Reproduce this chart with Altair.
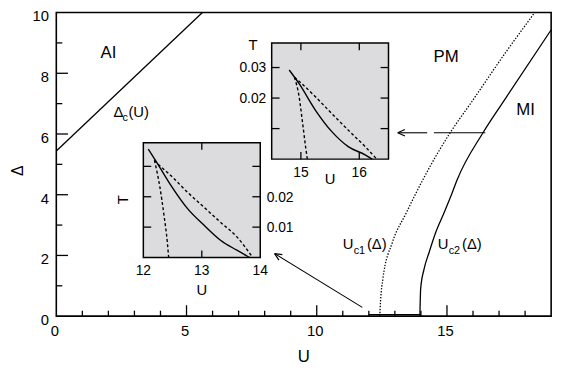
import altair as alt
import pandas as pd

W, H = 502, 308
FONT = "Liberation Sans"

# ---------------- main panel data ----------------
dc_U = [0.0, 5.61]
dc_D = [5.44, 10.0]
uc1_U = [12.42, 12.45, 12.54, 12.90, 13.43, 14.06, 14.69, 15.13, 15.95, 17.24, 18.37]
uc1_D = [0.0, 0.5, 1.23, 2.42, 3.39, 4.47, 5.44, 6.05, 7.06, 8.67, 10.0]
uc2_U = [13.96, 13.99, 14.12, 14.31, 14.56, 14.88, 15.19, 15.38, 16.39, 17.16, 19.0]
uc2_D = [0.0, 0.9, 1.55, 2.09, 2.74, 3.39, 4.04, 4.47, 6.05, 7.06, 9.43]
seg_U = [12.0, 14.0]
seg_D = [0.05, 0.05]
arr1_U = [11.75, 8.38]
arr1_D = [0.29, 2.06]
arr2a_U = [13.11, 14.24]
arr2b_U = [14.5, 16.47]
arr2_D = [6.04, 6.04]

main_x_dom = [0, 19]
main_y_dom = [0, 10]
x_labels = [0, 5, 10, 15]
x_ticks_major = [5, 10, 15]
x_ticks_minor = [1, 2, 3, 4, 6, 7, 8, 9, 11, 12, 13, 14, 16, 17, 18]
y_labels = [0, 2, 4, 6, 8, 10]
y_ticks_major = [2, 4, 6, 8]
y_ticks_minor = [1, 3, 5, 7, 9]

lab_text = ["AI", "PM", "MI"]
lab_U = [2.0, 14.97, 18.02]
lab_D = [8.51, 8.37, 6.62]

dc_anchor = (2.2, 6.57)
uc1_anchor = (11.0, 2.2)
uc2_anchor = (14.65, 2.2)
x_title_anchor = (9.5, 0.0)
y_title_anchor = (-1.46, 4.79)

# ---------------- inset 1 (lower left) ----------------
in1_U_dom = [12, 14]
in1_T_dom = [0, 0.0378]
in1_sol_U = [12.084, 12.253, 12.48, 12.76, 13.04, 13.32, 13.6, 13.82]
in1_sol_T = [0.0357, 0.0306, 0.0235, 0.016, 0.0106, 0.0057, 0.0024, 0.0]
in1_d1_U = [12.19, 12.28, 12.354, 12.41, 12.433]
in1_d1_T = [0.032, 0.0235, 0.0138, 0.0051, 0.0]
in1_d2_U = [12.19, 12.25, 12.48, 12.76, 13.04, 13.32, 13.6, 13.87]
in1_d2_T = [0.032, 0.0308, 0.0268, 0.0214, 0.0165, 0.0116, 0.0068, 0.0]
in1_x_labels = [12, 13, 14]
in1_x_ticks = [13]
in1_y_labels = [0.01, 0.02]
in1_y_ticks = [0.01, 0.02, 0.03]
in1_U_title = (13.0, 0.0)
in1_T_title = (11.66, 0.019)

# ---------------- inset 2 (upper) ----------------
in2_U_dom = [14.5, 16.5]
in2_T_dom = [0, 0.038]
in2_sol_U = [14.80, 14.97, 15.25, 15.53, 15.81, 16.10, 16.22]
in2_sol_T = [0.0292, 0.0247, 0.016, 0.009, 0.0041, 0.0014, 0.0]
in2_d1_U = [14.89, 14.97, 15.03, 15.08, 15.11]
in2_d1_T = [0.0268, 0.0204, 0.0117, 0.0041, 0.0]
in2_d2_U = [14.89, 14.97, 15.25, 15.53, 15.81, 16.10, 16.30]
in2_d2_T = [0.0268, 0.0255, 0.0204, 0.0149, 0.0095, 0.0041, 0.0]
in2_x_labels = [15, 16]
in2_x_ticks = [15, 16]
in2_y_labels = [0.02, 0.03]
in2_y_ticks = [0.01, 0.02, 0.03]
in2_U_title = (15.5, 0.0)
in2_T_title = (14.18, 0.0372)

# ---------------- helpers ----------------
CHEVRON = "M0,0L1,-0.45M0,0L1,0.45"


def sc(dom, rng=None):
    if rng is None:
        return alt.Scale(domain=dom, nice=False, zero=False)
    return alt.Scale(domain=dom, range=rng, nice=False, zero=False)


def line(u, d, xs, ys, dash=None, width=1.3, interp="linear"):
    df = pd.DataFrame({"u": u, "d": d, "o": list(range(len(u)))})
    kw = dict(color="black", strokeWidth=width, strokeCap="butt", interpolate=interp)
    if dash:
        kw["strokeDash"] = dash
    return alt.Chart(df).mark_line(**kw).encode(
        x=alt.X("u:Q", scale=xs, axis=None),
        y=alt.Y("d:Q", scale=ys, axis=None),
        order="o:Q",
    )


def vticks(vals, base, length, xs, ys, width=1.3):
    df = pd.DataFrame({"u": vals})
    df["a"] = base
    df["b"] = base + length
    return alt.Chart(df).mark_rule(color="black", strokeWidth=width).encode(
        x=alt.X("u:Q", scale=xs, axis=None),
        y=alt.Y("a:Q", scale=ys, axis=None),
        y2="b:Q",
    )


def hticks(vals, base, length, xs, ys, width=1.3):
    df = pd.DataFrame({"d": vals})
    df["a"] = base
    df["b"] = base + length
    return alt.Chart(df).mark_rule(color="black", strokeWidth=width).encode(
        y=alt.Y("d:Q", scale=ys, axis=None),
        x=alt.X("a:Q", scale=xs, axis=None),
        x2="b:Q",
    )


def texts(us, ds, ss, xs, ys, size=16, align="center", dx=0, dy=0,
          baseline="alphabetic", angle=0):
    df = pd.DataFrame({"u": us, "d": ds, "t": ss})
    return alt.Chart(df).mark_text(
        align=align, baseline=baseline, fontSize=size, dx=dx, dy=dy,
        font=FONT, color="black", angle=angle,
    ).encode(
        x=alt.X("u:Q", scale=xs, axis=None),
        y=alt.Y("d:Q", scale=ys, axis=None),
        text="t:N",
    )


def arrowhead(u, d, xs, ys, ang):
    df = pd.DataFrame({"u": [u], "d": [d]})
    return alt.Chart(df).mark_point(
        shape=CHEVRON, size=210, filled=False, stroke="black",
        strokeWidth=1.2, angle=ang, opacity=1,
    ).encode(
        x=alt.X("u:Q", scale=xs, axis=None),
        y=alt.Y("d:Q", scale=ys, axis=None),
    )


# ---------------- main panel ----------------
mxs = sc(main_x_dom)
mys = sc(main_y_dom)

XL_MAJ, XL_MIN = 0.36, 0.18
YL_MAJ, YL_MIN = 0.45, 0.23

main_layers = [
    vticks(x_ticks_major, 0, XL_MAJ, mxs, mys),
    vticks(x_ticks_minor, 0, XL_MIN, mxs, mys),
    hticks(y_ticks_major, 0, YL_MAJ, mxs, mys),
    hticks(y_ticks_minor, 0, YL_MIN, mxs, mys),
    line(dc_U, dc_D, mxs, mys),
    line(uc1_U, uc1_D, mxs, mys, dash=[1.4, 1.6], interp="monotone"),
    line(uc2_U, uc2_D, mxs, mys, interp="monotone"),
    line(seg_U, seg_D, mxs, mys, width=1.1),
    line(arr1_U, arr1_D, mxs, mys, width=1.1),
    arrowhead(arr1_U[1], arr1_D[1], mxs, mys, 31.5),
    line(arr2a_U, arr2_D, mxs, mys, width=1.1),
    line(arr2b_U, arr2_D, mxs, mys, width=1.1),
    arrowhead(arr2a_U[0], arr2_D[0], mxs, mys, 0),
    # tick labels
    texts(x_labels, [main_y_dom[0]] * len(x_labels), [str(v) for v in x_labels],
          mxs, mys, size=15, dx=-1.5, dy=20),
    texts([main_x_dom[0]] * len(y_labels), y_labels, [str(v) for v in y_labels],
          mxs, mys, size=15, align="right", dx=-7.5, dy=9),
    # axis titles
    texts([x_title_anchor[0]], [x_title_anchor[1]], ["U"], mxs, mys, size=17, dy=47),
    texts([y_title_anchor[0]], [y_title_anchor[1]], ["Δ"], mxs, mys, size=16,
          baseline="middle", angle=270),
    texts(lab_U, lab_D, lab_text, mxs, mys, size=17),
]

for anchor, parts in [
    (dc_anchor, [("Δ", 0, 0, 15), ("c", 9, 4, 11), ("(U)", 15, 0, 15)]),
    (uc1_anchor, [("U", 0, 0, 15), ("c1", 11, 5, 11), ("(Δ)", 24.5, 0, 15)]),
    (uc2_anchor, [("U", 0, 0, 15), ("c2", 11, 5, 11), ("(Δ)", 24.5, 0, 15)]),
]:
    for s, dx, dy, fs in parts:
        main_layers.append(texts([anchor[0]], [anchor[1]], [s], mxs, mys, size=fs,
                                 align="left", dx=dx, dy=dy))

main = alt.layer(*main_layers)

GRAY = "#dcdcde"
TL_X = 0.0023   # inset tick length (T units)
TL_Y = 0.135    # inset tick length (U units)


def inset(u_dom, t_dom, xr, yr, sol, d1, d2, xlab, xt, ylab, yt, yside,
          u_title, t_title, t_rot, u_title_dy):
    xs = sc(u_dom, xr)
    ys = sc(t_dom, yr)
    fr = pd.DataFrame({"u0": [u_dom[0]], "u1": [u_dom[1]],
                       "t0": [t_dom[0]], "t1": [t_dom[1]]})
    frame = alt.Chart(fr).mark_rect(fill=GRAY, stroke="black", strokeWidth=1.5).encode(
        x=alt.X("u0:Q", scale=xs, axis=None),
        x2="u1:Q",
        y=alt.Y("t0:Q", scale=ys, axis=None),
        y2="t1:Q",
    )
    if yside == "right":
        ylab_layer = texts([u_dom[1]] * len(ylab), ylab, [f"{v:.2f}" for v in ylab],
                           xs, ys, size=14, align="left", dx=6.5, dy=5)
    else:
        ylab_layer = texts([u_dom[0]] * len(ylab), ylab, [f"{v:.2f}" for v in ylab],
                           xs, ys, size=14, align="right", dx=-5.5, dy=5)
    layers = [
        frame,
        vticks(xt, t_dom[0], TL_X, xs, ys),
        vticks(xt, t_dom[1], -TL_X, xs, ys),
        hticks(yt, u_dom[0], TL_Y, xs, ys),
        hticks(yt, u_dom[1], -TL_Y, xs, ys),
        line(sol[0], sol[1], xs, ys, width=1.4, interp="monotone"),
        line(d1[0], d1[1], xs, ys, dash=[3, 2.4], width=1.4, interp="monotone"),
        line(d2[0], d2[1], xs, ys, dash=[3, 2.4], width=1.4, interp="monotone"),
        texts(xlab, [t_dom[0]] * len(xlab), [str(v) for v in xlab], xs, ys,
              size=14, dy=18),
        ylab_layer,
        texts([u_title[0]], [u_title[1]], ["U"], xs, ys, size=15, dy=u_title_dy),
        texts([t_title[0]], [t_title[1]], ["T"], xs, ys, size=15,
              baseline="middle", angle=t_rot),
    ]
    return alt.layer(*layers)


ins1 = inset(in1_U_dom, in1_T_dom, [88.3, 206.9], [248.5, 132],
             (in1_sol_U, in1_sol_T), (in1_d1_U, in1_d1_T), (in1_d2_U, in1_d2_T),
             in1_x_labels, in1_x_ticks, in1_y_labels, in1_y_ticks, "right",
             in1_U_title, in1_T_title, 270, 38)

ins2 = inset(in2_U_dom, in2_T_dom, [218.5, 337.0], [148.7, 31],
             (in2_sol_U, in2_sol_T), (in2_d1_U, in2_d1_T), (in2_d2_U, in2_d2_T),
             in2_x_labels, in2_x_ticks, in2_y_labels, in2_y_ticks, "left",
             in2_U_title, in2_T_title, 0, 25)

chart = alt.layer(main, ins1, ins2).resolve_scale(
    x="independent", y="independent"
).properties(
    width=W, height=H,
    padding={"left": 49, "top": 2, "right": 10, "bottom": 52},
    autosize=alt.AutoSizeParams(type="none"),
).configure_view(
    stroke="black", strokeWidth=1.6
)

chart.save("out.html", embed_options={"renderer": "svg", "actions": False})
